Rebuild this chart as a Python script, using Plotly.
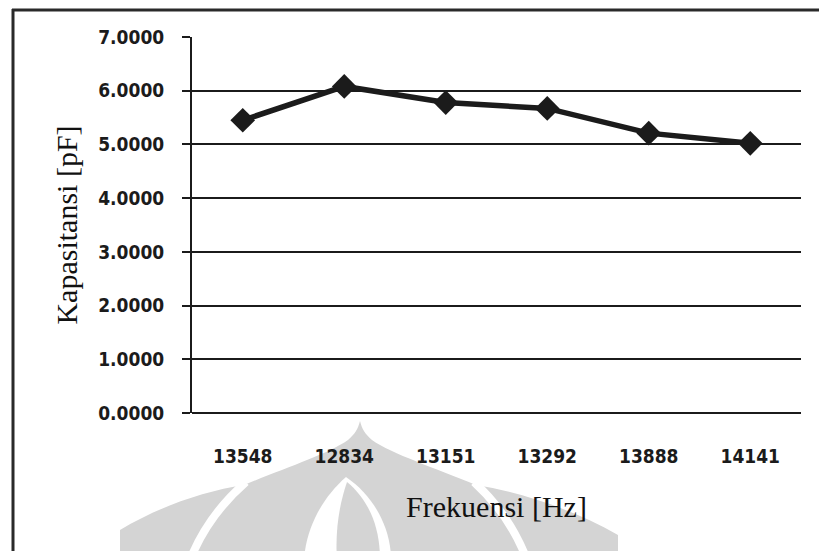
import plotly.graph_objects as go

# Measured capacitance at each test frequency
freq_labels = ["13548", "12834", "13151", "13292", "13888", "14141"]
capacitance_pf = [5.45, 6.08, 5.78, 5.67, 5.21, 5.02]
y_tick_values = [0, 1, 2, 3, 4, 5, 6, 7]

W, H = 819, 551
L, R, T, B = 192, 801, 37, 413   # plot-area box in pixels

INK = "#1b1b1b"
MARK_GRAY = "#d4d4d4"
TICK_FONT = dict(family="DejaVu Sans Condensed, DejaVu Sans", size=19,
                 color=INK, weight="bold")
TITLE_FONT = dict(family="Liberation Serif", size=30, color="#111111")


def px(x):
    return (x - L) / (R - L)


def py(y):
    return (B - y) / (B - T)


def path(points_cmds, close=True):
    """Build an SVG path in paper units from pixel commands."""
    out = []
    for cmd, pts in points_cmds:
        coords = " ".join(f"{px(x):.5f},{py(y):.5f}" for x, y in pts)
        out.append(f"{cmd} {coords}")
    return " ".join(out) + (" Z" if close else "")


fig = go.Figure(
    go.Scatter(
        x=freq_labels,
        y=capacitance_pf,
        mode="lines+markers",
        line=dict(color=INK, width=5.5),
        marker=dict(symbol="diamond", size=19, color=INK),
        cliponaxis=False,
        showlegend=False,
    )
)

shapes = []

# faint university emblem printed behind the lower part of the page
emblem = path([
    ("M", [(120, 560)]),
    ("L", [(120, 530)]),
    ("C", [(160, 506), (205, 491), (244, 485)]),
    ("C", [(285, 468), (328, 454), (348, 440)]),
    ("C", [(355, 434), (358, 429), (360, 421)]),
    ("C", [(362, 429), (365, 434), (372, 440)]),
    ("C", [(392, 454), (435, 468), (476, 485)]),
    ("C", [(520, 492), (575, 510), (618, 535)]),
    ("L", [(618, 560)]),
])
lens = path([
    ("M", [(346, 477)]),
    ("C", [(322, 498), (306, 528), (304, 560)]),
    ("L", [(391, 560)]),
    ("C", [(391, 528), (374, 496), (346, 477)]),
])
leaf = path([
    ("M", [(347, 482)]),
    ("C", [(339, 505), (335, 532), (337, 560)]),
    ("L", [(380, 560)]),
    ("C", [(380, 530), (371, 502), (347, 482)]),
])
left_cut = path([("M", [(246, 482)]), ("Q", [(208, 515), (190, 560)])], close=False)
right_cut = path([("M", [(474, 482)]), ("Q", [(510, 515), (527, 560)])], close=False)

shapes.append(dict(type="path", path=emblem, xref="paper", yref="paper",
                   fillcolor=MARK_GRAY, line=dict(width=0), layer="below"))
for d in (left_cut, right_cut):
    shapes.append(dict(type="path", path=d, xref="paper", yref="paper",
                       line=dict(color="white", width=8), layer="below"))
shapes.append(dict(type="path", path=lens, xref="paper", yref="paper",
                   fillcolor="white", line=dict(width=0), layer="below"))
shapes.append(dict(type="path", path=leaf, xref="paper", yref="paper",
                   fillcolor=MARK_GRAY, line=dict(width=0), layer="below"))

# page frame (left and top rules)
shapes.append(dict(type="line", xref="paper", yref="paper",
                   x0=px(13), x1=px(13), y0=py(9), y1=py(560),
                   line=dict(color="#2a2a2a", width=3)))
shapes.append(dict(type="line", xref="paper", yref="paper",
                   x0=px(12), x1=px(830), y0=py(10), y1=py(10),
                   line=dict(color="#2a2a2a", width=3)))

fig.update_layout(
    width=W,
    height=H,
    margin=dict(l=L, r=W - R, t=T, b=H - B, pad=0),
    paper_bgcolor="white",
    plot_bgcolor="rgba(0,0,0,0)",
    shapes=shapes,
    font=dict(family="DejaVu Sans", color=INK),
)

fig.update_xaxes(
    type="category",
    range=[-0.5, 5.5],
    showgrid=False,
    showline=False,
    zeroline=False,
    ticks="",
    tickfont=TICK_FONT,
    ticklabelstandoff=30,
    title=dict(text="Frekuensi [Hz]", font=TITLE_FONT, standoff=29),
)

fig.update_yaxes(
    range=[0, 7],
    tickvals=y_tick_values,
    tickformat=".4f",
    showgrid=True,
    gridcolor=INK,
    gridwidth=2,
    zeroline=True,
    zerolinecolor=INK,
    zerolinewidth=2,
    showline=True,
    linecolor=INK,
    linewidth=2,
    ticks="outside",
    ticklen=8,
    tickwidth=2,
    tickcolor=INK,
    tickfont=TICK_FONT,
    ticklabelstandoff=14,
    title=dict(text="Kapasitansi [pF]", font=TITLE_FONT, standoff=12),
)

fig.write_html("out.html")
